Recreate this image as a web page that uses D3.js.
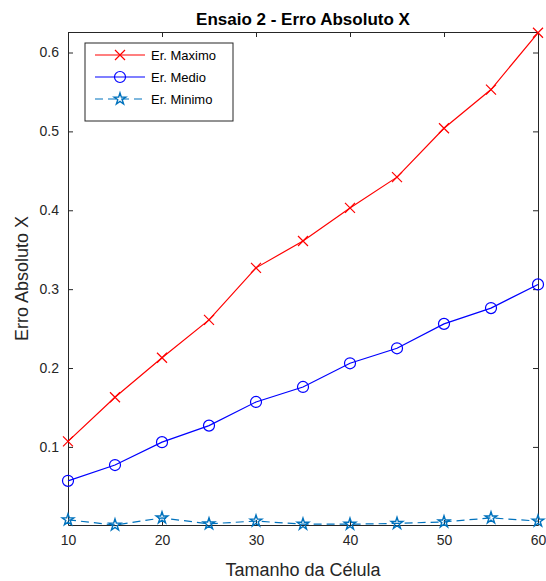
<!DOCTYPE html>
<html>
<head>
<meta charset="utf-8">
<script src="https://cdn.jsdelivr.net/npm/d3@7"></script>
<style>
body { margin: 0; background: #fff; }
text { font-family: "Liberation Sans", Arial, sans-serif; }
</style>
</head>
<body>
<script>
var cellSizes = [10, 15, 20, 25, 30, 35, 40, 45, 50, 55, 60];
var erMaximo = [0.107, 0.163, 0.213, 0.261, 0.327, 0.361, 0.403, 0.442, 0.504, 0.553, 0.625];
var erMedio = [0.057, 0.077, 0.106, 0.127, 0.157, 0.176, 0.206, 0.225, 0.256, 0.276, 0.306];
var erMinimo = [0.0076, 0.001, 0.010, 0.0025, 0.006, 0.002, 0.002, 0.003, 0.005, 0.010, 0.006];
var xTicks = [10, 20, 30, 40, 50, 60];
var yTicks = [0.1, 0.2, 0.3, 0.4, 0.5, 0.6];
var seriesNames = ["Er. Maximo", "Er. Medio", "Er. Minimo"];

window.onload = drawChart();

function drawChart(){
    var width = 546, height = 581;
    var margin = {left: 68, right: 8, top: 32, bottom: 56};
    var innerW = width - margin.left - margin.right,
        innerH = height - margin.top - margin.bottom;
    var axisColor = "#262626";

    var svg = d3.select("body").append("svg")
        .attr("width", width)
        .attr("height", height);

    var x = d3.scaleLinear().domain([10, 60]).range([margin.left, margin.left + innerW]);
    var y = d3.scaleLinear().domain([0.001, 0.626]).range([margin.top + innerH, margin.top]);

    //axes with inward ticks on all sides
    var bottom = svg.append("g")
        .attr("transform", "translate(0," + (margin.top + innerH) + ")")
        .call(d3.axisBottom(x).tickValues(xTicks).tickSizeInner(-5).tickSizeOuter(0).tickPadding(10));
    var top = svg.append("g")
        .attr("transform", "translate(0," + margin.top + ")")
        .call(d3.axisTop(x).tickValues(xTicks).tickSizeInner(-5).tickSizeOuter(0).tickFormat(""));
    var left = svg.append("g")
        .attr("transform", "translate(" + margin.left + ",0)")
        .call(d3.axisLeft(y).tickValues(yTicks).tickSizeInner(-5).tickSizeOuter(0).tickPadding(9).tickFormat(d3.format("")));
    var right = svg.append("g")
        .attr("transform", "translate(" + (margin.left + innerW) + ",0)")
        .call(d3.axisRight(y).tickValues(yTicks).tickSizeInner(-5).tickSizeOuter(0).tickFormat(""));

    [bottom, top, left, right].forEach(function(g){
        g.select(".domain").attr("stroke", axisColor).attr("stroke-width", 1);
        g.selectAll(".tick line").attr("stroke", axisColor);
        g.selectAll(".tick text")
            .attr("fill", axisColor)
            .style("font-size", "14px")
            .style("font-family", "'Liberation Sans', Arial, sans-serif");
    });

    //title and labels
    svg.append("text")
        .attr("x", margin.left + innerW / 2)
        .attr("y", 25)
        .attr("text-anchor", "middle")
        .style("font-size", "17px")
        .style("font-weight", "bold")
        .attr("fill", "#000")
        .text("Ensaio 2 - Erro Absoluto X");

    svg.append("text")
        .attr("x", margin.left + innerW / 2)
        .attr("y", 576)
        .attr("text-anchor", "middle")
        .style("font-size", "18px")
        .attr("fill", axisColor)
        .text("Tamanho da Célula");

    svg.append("text")
        .attr("transform", "translate(28," + (margin.top + innerH / 2) + ") rotate(-90)")
        .attr("text-anchor", "middle")
        .style("font-size", "18px")
        .attr("fill", axisColor)
        .text("Erro Absoluto X");

    var line = d3.line()
        .x(function(d, i){ return x(cellSizes[i]); })
        .y(function(d){ return y(d); });

    var series = [
        {name: seriesNames[0], values: erMaximo, color: "#ff0000", dash: null, marker: "x"},
        {name: seriesNames[1], values: erMedio, color: "#0000ff", dash: null, marker: "o"},
        {name: seriesNames[2], values: erMinimo, color: "#0072BD", dash: "8,5", marker: "star"}
    ];

    var star = d3.symbol().type(d3.symbolStar).size(42);

    function drawMarker(g, type, color){
        if (type == "x"){
            g.append("path").attr("d", "M-5,-5L5,5M-5,5L5,-5")
                .attr("stroke", color).attr("fill", "none").attr("stroke-width", 1.2);
        } else if (type == "o"){
            g.append("circle").attr("r", 5.5)
                .attr("stroke", color).attr("fill", "none").attr("stroke-width", 1.2);
        } else {
            g.append("path").attr("d", star())
                .attr("stroke", color).attr("fill", "none").attr("stroke-width", 1.4);
        }
    }

    series.forEach(function(s){
        svg.append("path")
            .datum(s.values)
            .attr("d", line)
            .attr("fill", "none")
            .attr("stroke", s.color)
            .attr("stroke-width", 1.2)
            .attr("stroke-dasharray", s.dash);
        svg.selectAll(null)
            .data(s.values)
            .enter()
            .append("g")
            .attr("transform", function(d, i){
                return "translate(" + x(cellSizes[i]) + "," + y(d) + ")";
            })
            .each(function(){ drawMarker(d3.select(this), s.marker, s.color); });
    });

    //legend
    var legend = svg.append("g").attr("transform", "translate(85,43)");
    legend.append("rect")
        .attr("width", 148)
        .attr("height", 78)
        .attr("fill", "#fff")
        .attr("stroke", axisColor)
        .attr("stroke-width", 1);
    series.forEach(function(s, i){
        var ly = 12 + i * 22;
        legend.append("line")
            .attr("x1", 10).attr("x2", 60)
            .attr("y1", ly).attr("y2", ly)
            .attr("stroke", s.color)
            .attr("stroke-width", 1.2)
            .attr("stroke-dasharray", s.dash);
        drawMarker(legend.append("g").attr("transform", "translate(35," + ly + ")"), s.marker, s.color);
        legend.append("text")
            .attr("x", 66)
            .attr("y", ly + 5)
            .style("font-size", "13px")
            .attr("fill", "#000")
            .text(s.name);
    });
}
</script>
</body>
</html>
